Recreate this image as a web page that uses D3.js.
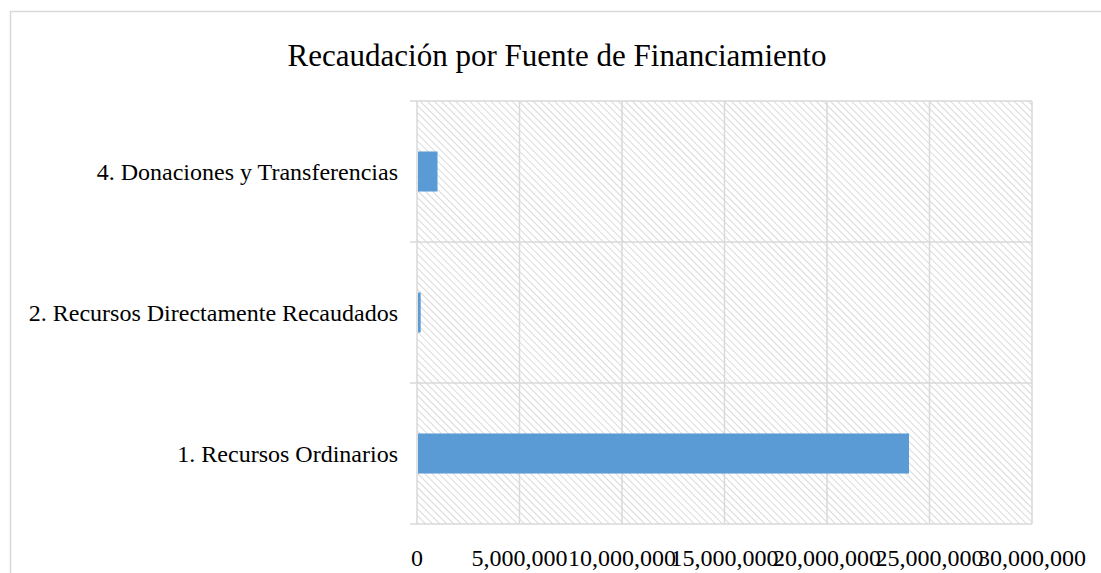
<!DOCTYPE html>
<html>
<head>
<meta charset="utf-8">
<script src="https://cdn.jsdelivr.net/npm/d3@7"></script>
<style>
  body { margin: 0; background: #fff; }
  svg { display: block; }
</style>
</head>
<body>
<div id="wrapper"></div>
<script>
// DATA
const categories = [
  "4. Donaciones y Transferencias",
  "2. Recursos Directamente Recaudados",
  "1. Recursos Ordinarios"
];
const values = [1000000, 180000, 24000000];
const xTicks = [0, 5000000, 10000000, 15000000, 20000000, 25000000, 30000000];
const title = "Recaudación por Fuente de Financiamiento";

const serif = "Liberation Serif, Times New Roman, serif";

//SVG
const width = 1101, height = 573;
const svg = d3.select("#wrapper").append("svg")
  .attr("width", width)
  .attr("height", height);

// hatch pattern for plot background
const pat = svg.append("defs").append("pattern")
  .attr("id", "hatch")
  .attr("patternUnits", "userSpaceOnUse")
  .attr("width", 5)
  .attr("height", 5)
  .attr("patternTransform", "rotate(-45)");
pat.append("line")
  .attr("x1", 0).attr("y1", 0)
  .attr("x2", 0).attr("y2", 5)
  .attr("stroke", "#d6d6d6")
  .attr("stroke-width", 1.8);

// chart border (runs off the page on right and bottom)
svg.append("rect")
  .attr("x", 10.5).attr("y", 11.5)
  .attr("width", 1200).attr("height", 700)
  .attr("fill", "none")
  .attr("stroke", "#d9d9d9")
  .attr("stroke-width", 1.5);

svg.append("text")
  .attr("x", 557).attr("y", 66)
  .attr("text-anchor", "middle")
  .attr("font-family", serif)
  .attr("font-size", 31)
  .attr("fill", "#000")
  .text(title);

const margin = { left: 417, right: 1032, top: 101, bottom: 524 };

const x = d3.scaleLinear()
  .domain([0, 30000000])
  .range([margin.left, margin.right]);

const y = d3.scaleBand()
  .domain(categories)
  .range([margin.top, margin.bottom])
  .paddingInner(0.716)
  .paddingOuter(0.358);

const yBands = d3.scaleBand()
  .domain(categories)
  .range([margin.top, margin.bottom]);

// background
svg.append("rect")
  .attr("x", margin.left).attr("y", margin.top)
  .attr("width", margin.right - margin.left)
  .attr("height", margin.bottom - margin.top)
  .attr("fill", "url(#hatch)");

// vertical gridlines
svg.append("g")
  .selectAll("line")
  .data(xTicks)
  .join("line")
  .attr("x1", d => x(d)).attr("x2", d => x(d))
  .attr("y1", margin.top).attr("y2", margin.bottom)
  .attr("stroke", "#d9d9d9")
  .attr("stroke-width", 1.5);

// category boundaries + tick marks
const bounds = categories.map(c => yBands(c)).concat([margin.bottom]);
svg.append("g")
  .selectAll("line")
  .data(bounds)
  .join("line")
  .attr("x1", margin.left - 7).attr("x2", margin.right)
  .attr("y1", d => d).attr("y2", d => d)
  .attr("stroke", "#d9d9d9")
  .attr("stroke-width", 1.5);

// bars
svg.append("g")
  .selectAll("rect")
  .data(categories)
  .join("rect")
  .attr("x", x(0) + 1)
  .attr("y", d => y(d))
  .attr("width", (d, i) => Math.max(0, x(values[i]) - x(0) - 1))
  .attr("height", y.bandwidth())
  .attr("fill", "#5b9bd5");

// category labels
svg.append("g")
  .selectAll("text")
  .data(categories)
  .join("text")
  .attr("x", 398)
  .attr("y", d => yBands(d) + yBands.bandwidth() / 2)
  .attr("dy", "0.35em")
  .attr("text-anchor", "end")
  .attr("font-family", serif)
  .attr("font-size", 24)
  .attr("fill", "#000")
  .text(d => d);

// x tick labels
svg.append("g")
  .selectAll("text")
  .data(xTicks)
  .join("text")
  .attr("x", d => x(d))
  .attr("y", 566)
  .attr("text-anchor", "middle")
  .attr("font-family", serif)
  .attr("font-size", 24)
  .attr("fill", "#000")
  .text(d => d3.format(",")(d));
</script>
</body>
</html>
